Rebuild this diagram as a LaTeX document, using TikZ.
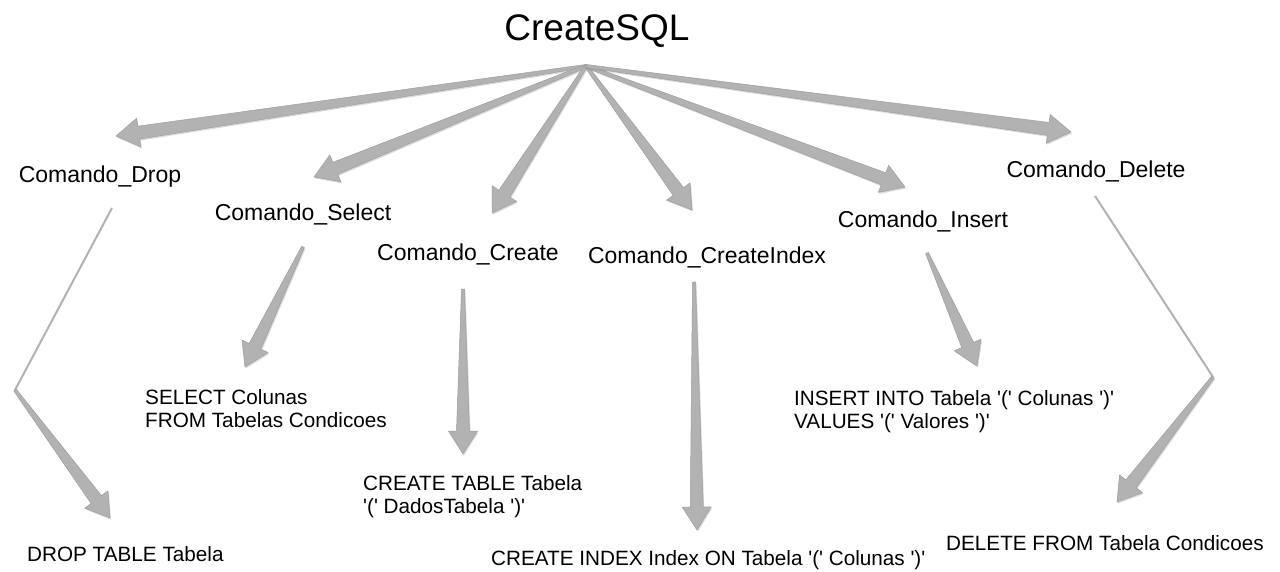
\documentclass[tikz,border=0pt]{standalone}
\usepackage{fontspec}
\setmainfont{Liberation Sans}
\usetikzlibrary{calc,shadows}
\newcommand\sq{\textquotesingle}
\tikzset{
 arrowfill/.style={fill=black!30, draw=black!38, line width=0.5pt, drop shadow={shadow xshift=1pt,shadow yshift=-1.5pt,opacity=0.28}},
 thinline/.style={draw=black!30, line width=2pt},
 cmd/.style={font=\fontsize{23}{27}\selectfont, inner sep=0pt, anchor=base},
 sql/.style={font=\fontsize{20.7}{23}\selectfont, inner sep=0pt, anchor=north west, align=left},
 titletext/.style={font=\fontsize{37}{40}\selectfont, inner sep=0pt, anchor=base},
}
\newcommand\taperarrow[2]{%
 \path ($(#2)!23pt!(#1)$) coordinate (hb);
 \fill[arrowfill] ($(#1)!1.5pt!90:(#2)$) -- ($(hb)!6.5pt!90:(#2)$) -- ($(hb)!14.5pt!90:(#2)$) -- (#2) -- ($(hb)!14.5pt!-90:(#2)$) -- ($(hb)!6.5pt!-90:(#2)$) -- ($(#1)!1.5pt!-90:(#2)$) -- cycle;}
\begin{document}
\begin{tikzpicture}[x=1pt,y=-1pt]
\useasboundingbox[fill=white] (0,0) rectangle (1280,572);
% title
\node[titletext] (root) at (597,41) {CreateSQL};
\coordinate (apex) at (586,66);
% command labels
\node[cmd] (drop) at (100,183) {Comando\_Drop};
\node[cmd] (select) at (303,221) {Comando\_Select};
\node[cmd] (create) at (468,261) {Comando\_Create};
\node[cmd] (cindex) at (707,263) {Comando\_CreateIndex};
\node[cmd] (insert) at (923,228) {Comando\_Insert};
\node[cmd] (delete) at (1096,178) {Comando\_Delete};
% sql texts
\node[sql] (sdrop) at (27,546) {DROP TABLE Tabela};
\node[sql] (sselect) at (145,389) {SELECT Colunas\\FROM Tabelas Condicoes};
\node[sql] (screate) at (363,475) {CREATE TABLE Tabela\\\sq(\sq{} DadosTabela \sq)\sq};
\node[sql] (scindex) at (491,550) {CREATE INDEX Index ON Tabela \sq(\sq{} Colunas \sq)\sq};
\node[sql] (sinsert) at (794,390) {INSERT INTO Tabela \sq(\sq{} Colunas \sq)\sq\\VALUES \sq(\sq{} Valores \sq)\sq};
\node[sql] (sdelete) at (946,535) {DELETE FROM Tabela Condicoes};
% arrow end coordinates
\coordinate (tdrop) at (116,136);
\coordinate (tselect) at (314,177);
\coordinate (tcreate) at (492,213);
\coordinate (tcindex) at (692,210);
\coordinate (tinsert) at (905,187);
\coordinate (tdelete) at (1071,132);
% top-level arrows
\taperarrow{apex}{tdrop}
\taperarrow{apex}{tselect}
\taperarrow{apex}{tcreate}
\taperarrow{apex}{tcindex}
\taperarrow{apex}{tinsert}
\taperarrow{apex}{tdelete}
% second-level
\coordinate (fselect) at (303,247);
\coordinate (gselect) at (245,367);
\coordinate (fcreate) at (463,289);
\coordinate (gcreate) at (463,454);
\coordinate (fcindex) at (694,282);
\coordinate (gcindex) at (697,530);
\coordinate (finsert) at (927,253);
\coordinate (ginsert) at (977,366);
\coordinate (fdrop) at (112,208);
\coordinate (bdrop) at (15,390);
\coordinate (gdrop) at (110,518);
\coordinate (fdelete) at (1095,196);
\coordinate (bdelete) at (1213,377);
\coordinate (gdelete) at (1117,502);
\taperarrow{fselect}{gselect}
\taperarrow{fcreate}{gcreate}
\taperarrow{fcindex}{gcindex}
\taperarrow{finsert}{ginsert}
\draw[thinline] (fdrop) -- (bdrop);
\taperarrow{bdrop}{gdrop}
\draw[thinline] (fdelete) -- (bdelete);
\taperarrow{bdelete}{gdelete}
\end{tikzpicture}
\end{document}
